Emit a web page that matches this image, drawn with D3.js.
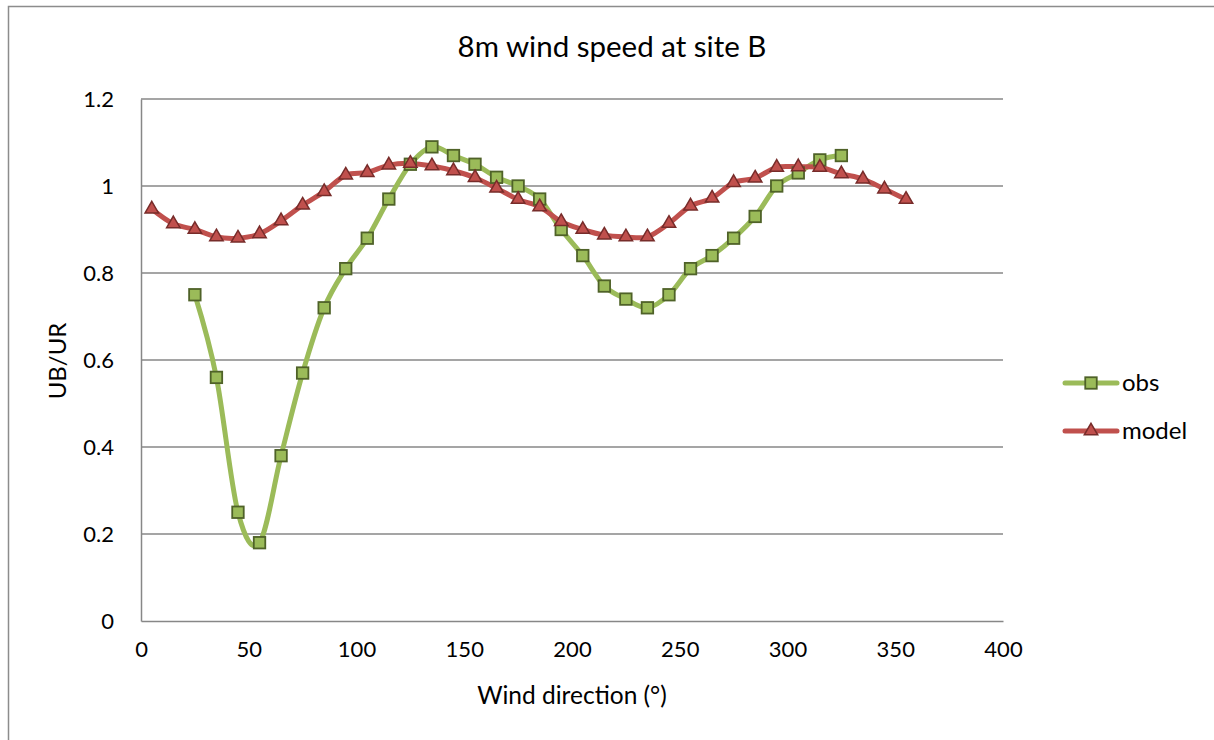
<!DOCTYPE html>
<html>
<head>
<meta charset="utf-8">
<script src="https://cdn.jsdelivr.net/npm/d3@7"></script>
<style>
  html, body { margin: 0; padding: 0; background: #fff; }
  svg { display: block; font-family: Lato, "Open Sans", sans-serif; }
</style>
</head>
<body>
<svg id="chart" width="1214" height="740"></svg>
<script>
// ---- data ----
const obsDirections = [25, 35, 45, 55, 65, 75, 85, 95, 105, 115, 125, 135, 145, 155, 165, 175, 185, 195, 205, 215, 225, 235, 245, 255, 265, 275, 285, 295, 305, 315, 325];
const obsValues = [0.75, 0.56, 0.25, 0.18, 0.38, 0.57, 0.72, 0.81, 0.88, 0.97, 1.05, 1.09, 1.07, 1.05, 1.02, 1.00, 0.97, 0.90, 0.84, 0.77, 0.74, 0.72, 0.75, 0.81, 0.84, 0.88, 0.93, 1.00, 1.03, 1.06, 1.07];
const modelDirections = [5, 15, 25, 35, 45, 55, 65, 75, 85, 95, 105, 115, 125, 135, 145, 155, 165, 175, 185, 195, 205, 215, 225, 235, 245, 255, 265, 275, 285, 295, 305, 315, 325, 335, 345, 355];
const modelValues = [0.947, 0.913, 0.900, 0.883, 0.880, 0.890, 0.920, 0.956, 0.987, 1.025, 1.031, 1.048, 1.052, 1.046, 1.035, 1.019, 0.995, 0.969, 0.952, 0.918, 0.900, 0.887, 0.883, 0.883, 0.914, 0.954, 0.972, 1.008, 1.018, 1.043, 1.044, 1.043, 1.028, 1.016, 0.993, 0.969];
const xTicks = [0, 50, 100, 150, 200, 250, 300, 350, 400];
const yTicks = [0, 0.2, 0.4, 0.6, 0.8, 1, 1.2];
const seriesNames = ["obs", "model"];
const chartTitle = "8m wind speed at site B";
const xTitle = "Wind direction (°)";
const yTitle = "UB/UR";

// ---- layout ----
const svg = d3.select("#chart");
const plot = { left: 141, right: 1003, top: 99, bottom: 621 };
const x = d3.scaleLinear().domain([0, 400]).range([plot.left, plot.right]);
const y = d3.scaleLinear().domain([0, 1.2]).range([plot.bottom, plot.top]);
const gridColor = "#878787";
const obsColor = "#9BBB59", obsDark = "#4F6228";
const modelColor = "#C0504D", modelDark = "#772C2A";

// outer chart border (top and left visible)
svg.append("path")
  .attr("d", "M8.5,740 V6.5 H1214")
  .attr("fill", "none").attr("stroke", "#8c8c8c").attr("stroke-width", 1.5);

// gridlines
svg.append("g").selectAll("line").data(yTicks.filter(d => d > 0)).join("line")
  .attr("x1", plot.left).attr("x2", plot.right)
  .attr("y1", d => y(d)).attr("y2", d => y(d))
  .attr("stroke", gridColor).attr("stroke-width", 1.5);

// axes via d3 axis
const xAxis = svg.append("g").attr("transform", `translate(0,${plot.bottom})`)
  .call(d3.axisBottom(x).tickValues(xTicks).tickSize(0).tickPadding(20).tickFormat(d3.format("d")));
xAxis.select(".domain").attr("stroke", gridColor).attr("stroke-width", 1.5);
xAxis.selectAll("text").attr("font-size", 22).attr("fill", "#000")
  .attr("font-family", "Lato, 'Open Sans', sans-serif");

const yAxis = svg.append("g").attr("transform", `translate(${plot.left},0)`)
  .call(d3.axisLeft(y).tickValues(yTicks).tickSize(0).tickPadding(27).tickFormat(d => d3.format("")(+d.toFixed(1))));
yAxis.select(".domain").attr("stroke", gridColor).attr("stroke-width", 1.5);
yAxis.selectAll("text").attr("font-size", 22).attr("fill", "#000")
  .attr("font-family", "Lato, 'Open Sans', sans-serif");

// titles
svg.append("text").attr("x", 612).attr("y", 57).attr("text-anchor", "middle")
  .attr("font-size", 29.5).attr("fill", "#000").text(chartTitle);
svg.append("text").attr("x", 572).attr("y", 704).attr("text-anchor", "middle")
  .attr("font-size", 24.5).attr("fill", "#000").text(xTitle);
svg.append("text").attr("transform", "translate(66,361) rotate(-90)").attr("text-anchor", "middle")
  .attr("font-size", 24).attr("fill", "#000").text(yTitle);

// lines
const obsData = obsDirections.map((d, i) => [d, obsValues[i]]);
const modelData = modelDirections.map((d, i) => [d, modelValues[i]]);
const line = d3.line().x(d => x(d[0])).y(d => y(d[1])).curve(d3.curveCatmullRom.alpha(0));

svg.append("path").datum(obsData).attr("d", line)
  .attr("fill", "none").attr("stroke", obsColor).attr("stroke-width", 5).attr("stroke-linejoin", "round").attr("stroke-linecap", "round");
svg.append("path").datum(modelData).attr("d", line)
  .attr("fill", "none").attr("stroke", modelColor).attr("stroke-width", 5).attr("stroke-linejoin", "round").attr("stroke-linecap", "round");

// markers
const sq = 11.5;
function drawSquares(g, data) {
  g.selectAll("rect").data(data).join("rect")
    .attr("x", d => x(d[0]) - sq / 2).attr("y", d => y(d[1]) - sq / 2)
    .attr("width", sq).attr("height", sq)
    .attr("fill", obsColor).attr("stroke", obsDark).attr("stroke-width", 1.8);
}
const tri = d3.symbol().type(d3.symbolTriangle).size(78);
function drawTriangles(g, data) {
  g.selectAll("path").data(data).join("path")
    .attr("d", tri)
    .attr("transform", d => `translate(${x(d[0])},${y(d[1])})`)
    .attr("fill", modelColor).attr("stroke", modelDark).attr("stroke-width", 1.5);
}
drawSquares(svg.append("g"), obsData);
drawTriangles(svg.append("g"), modelData);

// legend
const legendY = [383, 431];
const legend = svg.append("g");
seriesNames.forEach((name, i) => {
  const ly = legendY[i];
  const color = i === 0 ? obsColor : modelColor;
  legend.append("line").attr("x1", 1065).attr("x2", 1117).attr("y1", ly).attr("y2", ly)
    .attr("stroke", color).attr("stroke-width", 5).attr("stroke-linecap", "round");
  const g = legend.append("g");
  if (i === 0) drawSquares(g, [[x.invert(1091), y.invert(ly)]]);
  else drawTriangles(g, [[x.invert(1091), y.invert(ly)]]);
  legend.append("text").attr("x", 1122).attr("y", ly + 8).attr("font-size", 24).attr("fill", "#000").text(name);
});
</script>
</body>
</html>
